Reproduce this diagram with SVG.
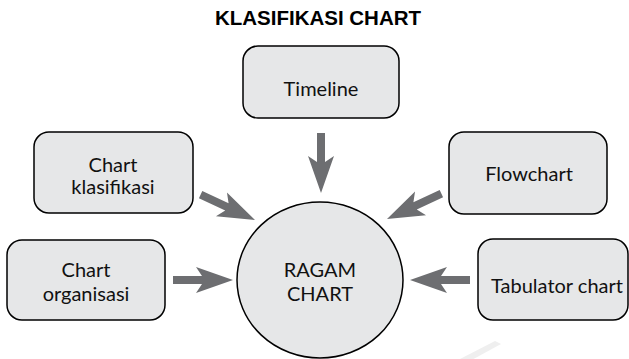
<svg xmlns="http://www.w3.org/2000/svg" width="629" height="359" viewBox="0 0 629 359">
<style>
.box{fill:#e6e7e8;stroke:#000;stroke-width:1.5}
.lbl{font-family:Lato,"Liberation Sans",sans-serif;font-size:20px;fill:#111;text-anchor:middle}
.title{font-family:"Liberation Sans",Arial,sans-serif;font-size:20.5px;font-weight:bold;fill:#000;text-anchor:middle}
.arr{fill:#6d6e71}
</style>
<defs>
<path id="arrow" d="M0,0 L-37,-13 L-31,-4 L-60,-4 L-60,4 L-31,4 L-37,13 Z"/>
</defs>
<rect width="629" height="359" fill="#fff"/>
<path d="M495,341 L501,344 L468,362 L460,359 Z" fill="#efefef"/>
<text class="title" x="318" y="25">KLASIFIKASI CHART</text>
<g id="connectors" class="arr">
<use href="#arrow" transform="translate(321,193) rotate(90)"/>
<use href="#arrow" transform="translate(255,220) rotate(25)"/>
<use href="#arrow" transform="translate(233,280)"/>
<use href="#arrow" transform="translate(387,219) rotate(155)"/>
<use href="#arrow" transform="translate(410,280) rotate(180)"/>
</g>
<g id="ragam">
<ellipse class="box" cx="320" cy="280" rx="83" ry="78"/>
<text class="lbl" x="320" y="277">RAGAM</text>
<text class="lbl" x="320" y="301">CHART</text>
</g>
<g id="timeline">
<rect class="box" x="243" y="46" width="156" height="72" rx="15"/>
<text class="lbl" x="321" y="96">Timeline</text>
</g>
<g id="klasifikasi">
<rect class="box" x="34" y="132" width="159" height="81" rx="15"/>
<text class="lbl" x="113" y="172">Chart</text>
<text class="lbl" x="113" y="194">klasifikasi</text>
</g>
<g id="organisasi">
<rect class="box" x="7" y="240" width="158" height="80" rx="15"/>
<text class="lbl" x="86" y="277">Chart</text>
<text class="lbl" x="86" y="301">organisasi</text>
</g>
<g id="flowchart">
<rect class="box" x="449" y="132" width="158" height="82" rx="15"/>
<text class="lbl" x="529" y="181">Flowchart</text>
</g>
<g id="tabulator">
<rect class="box" x="478" y="239" width="150" height="81" rx="15"/>
<text class="lbl" x="557" y="293">Tabulator chart</text>
</g>
</svg>
